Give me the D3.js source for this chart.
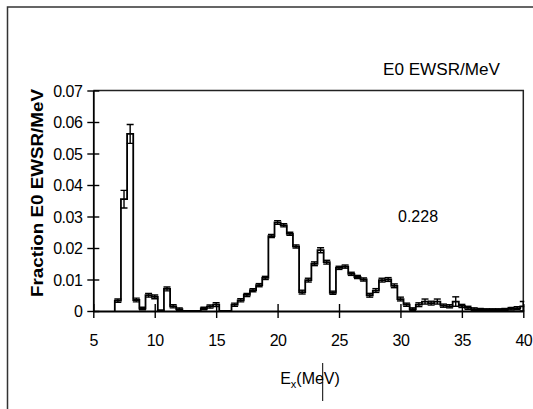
<!DOCTYPE html>
<html>
<head>
<meta charset="utf-8">
<script src="https://cdn.jsdelivr.net/npm/d3@7"></script>
<style>
  body { margin: 0; background: #fff; }
  svg text { font-family: "Liberation Sans", Arial, sans-serif; fill: #000; }
</style>
</head>
<body>
<svg id="chart" width="533" height="409"></svg>
<script>
// Excitation energy bin centres (MeV); every bin is 0.5 MeV wide
const binCenters = [
  7.0, 7.5, 8.0, 8.5, 9.0, 9.5, 10.0, 10.5, 11.0, 11.5, 12.0, 12.5, 13.0, 13.5,
  14.0, 14.5, 15.0, 15.5, 16.0, 16.5, 17.0, 17.5, 18.0, 18.5, 19.0, 19.5, 20.0,
  20.5, 21.0, 21.5, 22.0, 22.5, 23.0, 23.5, 24.0, 24.5, 25.0, 25.5, 26.0, 26.5,
  27.0, 27.5, 28.0, 28.5, 29.0, 29.5, 30.0, 30.5, 31.0, 31.5, 32.0, 32.5, 33.0,
  33.5, 34.0, 34.5, 35.0, 35.5, 36.0, 36.5, 37.0, 37.5, 38.0, 38.5, 39.0, 39.5, 40.0
];
const binWidth = 0.5;

// Fraction of the E0 energy-weighted sum rule per MeV in each bin
const ewsrFraction = [
  0.0033, 0.0355, 0.0562, 0.0035, 0.0008, 0.0050, 0.0045, 0.0000, 0.0070, 0.0015, 0.0006, 0.0000, 0.0000, 0.0000,
  0.0008, 0.0014, 0.0020, 0.0000, 0.0000, 0.0020, 0.0034, 0.0051, 0.0066, 0.0082, 0.0105, 0.0238, 0.0281,
  0.0272, 0.0245, 0.0205, 0.0060, 0.0098, 0.0150, 0.0193, 0.0155, 0.0058, 0.0137, 0.0141, 0.0118, 0.0108,
  0.0100, 0.0050, 0.0065, 0.0098, 0.0100, 0.0080, 0.0038, 0.0020, 0.0006, 0.0020, 0.0030, 0.0025, 0.0030,
  0.0017, 0.0015, 0.0030, 0.0016, 0.0010, 0.0006, 0.0005, 0.0004, 0.0004, 0.0004, 0.0005, 0.0007, 0.0009, 0.0015
];

// Statistical uncertainty of each bin
const ewsrError = [
  0.0005, 0.0028, 0.0030, 0.0006, 0.0004, 0.0006, 0.0006, 0.0003, 0.0006, 0.0005, 0.0004, 0.0000, 0.0000, 0.0000,
  0.0004, 0.0005, 0.0006, 0.0000, 0.0000, 0.0005, 0.0005, 0.0005, 0.0005, 0.0005, 0.0005, 0.0005, 0.0006,
  0.0005, 0.0005, 0.0005, 0.0006, 0.0006, 0.0006, 0.0008, 0.0006, 0.0005, 0.0005, 0.0005, 0.0005, 0.0005,
  0.0005, 0.0006, 0.0006, 0.0006, 0.0006, 0.0006, 0.0006, 0.0005, 0.0004, 0.0006, 0.0008, 0.0006, 0.0008,
  0.0005, 0.0005, 0.0015, 0.0005, 0.0005, 0.0004, 0.0003, 0.0003, 0.0003, 0.0003, 0.0003, 0.0004, 0.0005, 0.0015
];

const xTicks = [5, 10, 15, 20, 25, 30, 35, 40];
const yTicks = [0, 0.01, 0.02, 0.03, 0.04, 0.05, 0.06, 0.07];
const yTickLabels = ["0", "0.01", "0.02", "0.03", "0.04", "0.05", "0.06", "0.07"];

const legendText = "E0  EWSR/MeV";
const totalText = "0.228";
const yTitle = "Fraction E0 EWSR/MeV";

const svg = d3.select("#chart");

const plot = { left: 93.3, right: 523.3, top: 90.5, bottom: 311 };
const x = d3.scaleLinear().domain([5, 40]).range([plot.left, plot.right]);
const y = d3.scaleLinear().domain([0, 0.07]).range([plot.bottom, plot.top]);

// chart frame
svg.append("rect")
  .attr("x", 7.5).attr("y", 7)
  .attr("width", 560).attr("height", 420)
  .attr("fill", "none").attr("stroke", "#333").attr("stroke-width", 1.5);

svg.append("defs").append("clipPath").attr("id", "plotClip")
  .append("rect")
  .attr("x", plot.left).attr("y", plot.top - 10)
  .attr("width", plot.right - plot.left + 1).attr("height", plot.bottom - plot.top + 20);

// plot-area outline (top and right sides)
svg.append("path")
  .attr("d", `M${plot.left},${plot.top}H${plot.right}V${plot.bottom}`)
  .attr("fill", "none").attr("stroke", "#222").attr("stroke-width", 1.5);

// histogram outline
const pts = [];
binCenters.forEach((c, i) => {
  const lo = c - binWidth / 2, hi = c + binWidth / 2;
  if (i === 0) pts.push([lo, 0]);
  pts.push([lo, ewsrFraction[i]]);
  pts.push([hi, ewsrFraction[i]]);
});
pts.push([binCenters[binCenters.length - 1] + binWidth / 2, 0]);

const line = d3.line().x(d => x(d[0])).y(d => y(d[1]));
const g = svg.append("g").attr("clip-path", "url(#plotClip)");
g.append("path")
  .attr("d", line(pts))
  .attr("fill", "none").attr("stroke", "#000").attr("stroke-width", 1.8)
  .attr("stroke-linejoin", "miter");

// error bars
const capHalf = 3.5;
const eb = g.selectAll("g.err")
  .data(binCenters.map((c, i) => ({ c, v: ewsrFraction[i], e: ewsrError[i] })).filter(d => d.e > 0))
  .join("g").attr("class", "err")
  .attr("stroke", "#000").attr("stroke-width", 1.4);
eb.append("line")
  .attr("x1", d => x(d.c)).attr("x2", d => x(d.c))
  .attr("y1", d => y(d.v - d.e)).attr("y2", d => y(d.v + d.e));
eb.append("line")
  .attr("x1", d => x(d.c) - capHalf).attr("x2", d => x(d.c) + capHalf)
  .attr("y1", d => y(d.v + d.e)).attr("y2", d => y(d.v + d.e));
eb.append("line")
  .attr("x1", d => x(d.c) - capHalf).attr("x2", d => x(d.c) + capHalf)
  .attr("y1", d => y(Math.max(0, d.v - d.e))).attr("y2", d => y(Math.max(0, d.v - d.e)));

// axes with ticks crossing the axis line
const xAxis = svg.append("g")
  .attr("transform", `translate(0,${plot.bottom})`)
  .call(d3.axisBottom(x).tickValues(xTicks).tickFormat(d3.format("d")).tickSizeOuter(0));
xAxis.select(".domain").attr("stroke", "#000").attr("stroke-width", 1.8);
xAxis.selectAll(".tick line").attr("y1", -7).attr("y2", 7).attr("stroke", "#000").attr("stroke-width", 1.4);
xAxis.selectAll(".tick text")
  .attr("y", 35).attr("dy", null)
  .style("font-size", "16px").style("font-family", "Liberation Sans, Arial, sans-serif")
  .style("letter-spacing", "-0.5px").attr("fill", "#000");

const yAxis = svg.append("g")
  .attr("transform", `translate(${plot.left},0)`)
  .call(d3.axisLeft(y).tickValues(yTicks).tickFormat((d, i) => yTickLabels[i]).tickSizeOuter(0));
yAxis.select(".domain").attr("stroke", "#000").attr("stroke-width", 1.8);
yAxis.selectAll(".tick line").attr("x1", -6).attr("x2", 6).attr("stroke", "#000").attr("stroke-width", 1.4);
yAxis.selectAll(".tick text")
  .attr("x", -11).attr("dy", "0.36em")
  .style("font-size", "16px").style("font-family", "Liberation Sans, Arial, sans-serif")
  .style("letter-spacing", "-0.5px").attr("fill", "#000");

// y-axis title
svg.append("text")
  .attr("transform", "translate(43,193) rotate(-90)")
  .attr("text-anchor", "middle")
  .attr("font-weight", "bold").attr("font-size", 17)
  .attr("textLength", 208).attr("lengthAdjust", "spacingAndGlyphs")
  .text(yTitle);

// x-axis title E_x(MeV)
const xt = svg.append("text")
  .attr("x", 310).attr("y", 384)
  .attr("text-anchor", "middle").attr("font-size", 16);
xt.append("tspan").text("E");
xt.append("tspan").attr("font-size", 11).attr("dy", 4).text("x");
xt.append("tspan").attr("dy", -4).text("(MeV)");

// caret mark over the axis title
svg.append("line")
  .attr("x1", 322.7).attr("x2", 322.7).attr("y1", 363).attr("y2", 401)
  .attr("stroke", "#000").attr("stroke-width", 1);

// series label
svg.append("text")
  .attr("x", 383).attr("y", 75).attr("font-size", 16)
  .attr("textLength", 117).attr("lengthAdjust", "spacingAndGlyphs")
  .text(legendText);

// integrated strength
svg.append("text")
  .attr("x", 398).attr("y", 222).attr("font-size", 16)
  .text(totalText);
</script>
</body>
</html>
